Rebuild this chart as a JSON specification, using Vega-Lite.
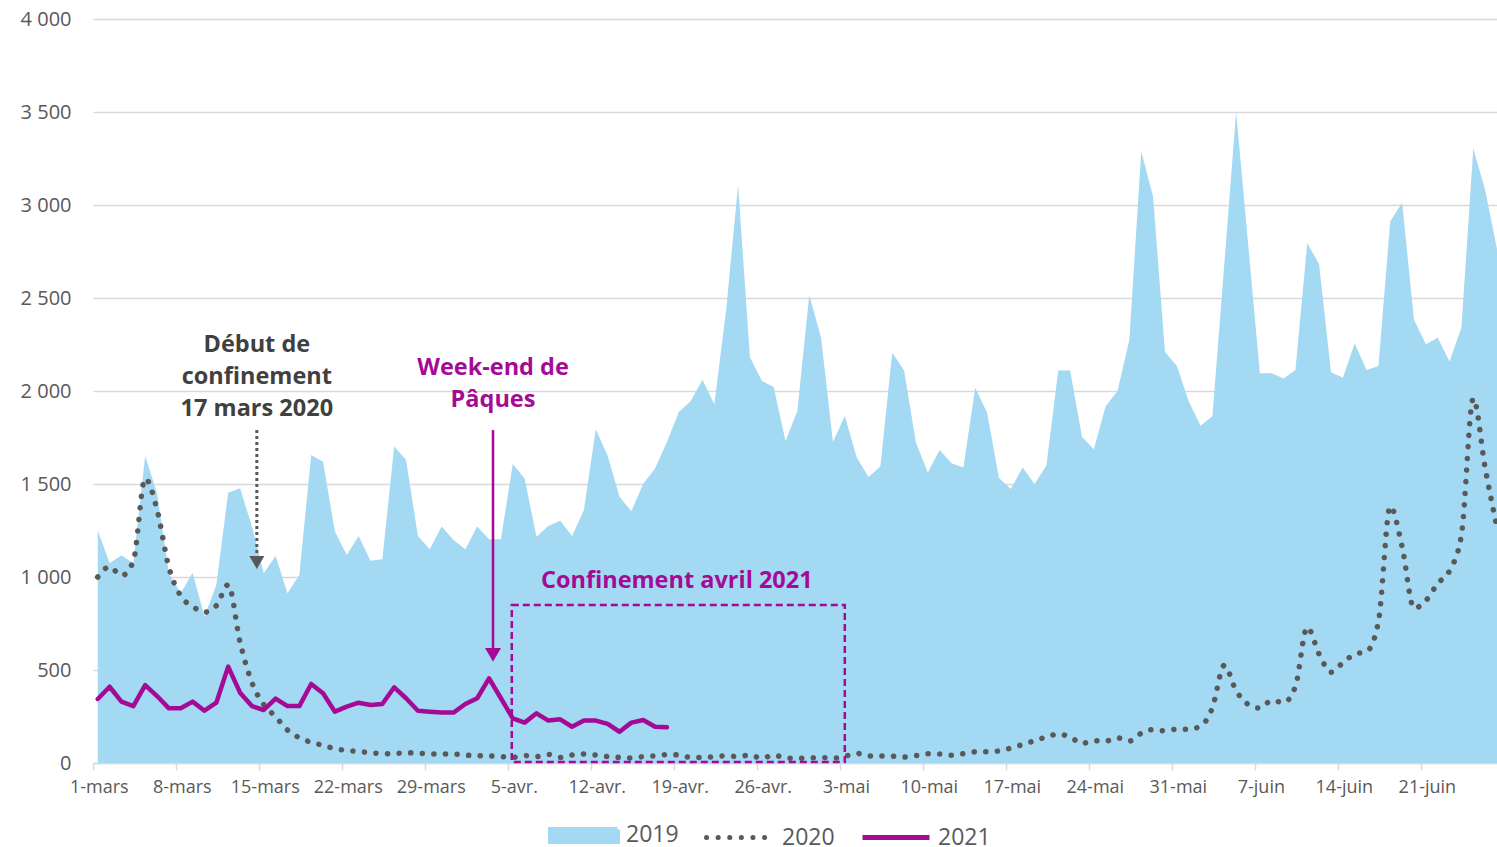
{
  "$schema": "https://vega.github.io/schema/vega-lite/v6.json",
  "width": 1404,
  "height": 744,
  "autosize": {"type": "none"},
  "padding": {"left": 93, "top": 19, "right": 0, "bottom": 84},
  "background": "white",
  "config": {
    "view": {"stroke": null},
    "font": "Open Sans",
    "locale": {
      "number": {"decimal": ",", "thousands": "\u00a0", "grouping": [3], "currency": ["", "\u00a0€"]},
      "time": {
        "dateTime": "%A %e %B %Y à %X", "date": "%d/%m/%Y", "time": "%H:%M:%S", "periods": ["AM", "PM"],
        "days": ["dimanche", "lundi", "mardi", "mercredi", "jeudi", "vendredi", "samedi"],
        "shortDays": ["dim.", "lun.", "mar.", "mer.", "jeu.", "ven.", "sam."],
        "months": ["janvier", "février", "mars", "avril", "mai", "juin", "juillet", "août", "septembre", "octobre", "novembre", "décembre"],
        "shortMonths": ["janv.", "févr.", "mars", "avr.", "mai", "juin", "juil.", "août", "sept.", "oct.", "nov.", "déc."]
      }
    }
  },
  "data": {
    "format": {"parse": {"d": "date:'%Y-%m-%d'"}},
    "values": [
      {"d": "2021-03-01", "2019": 1250, "2020": 1000, "2021": 344},
      {"d": "2021-03-02", "2019": 1075, "2020": 1055, "2021": 410},
      {"d": "2021-03-03", "2019": 1115, "2020": 1007, "2021": 330},
      {"d": "2021-03-04", "2019": 1075, "2020": 1085, "2021": 306},
      {"d": "2021-03-05", "2019": 1650, "2020": 1530, "2021": 419},
      {"d": "2021-03-06", "2019": 1450, "2020": 1362, "2021": 360},
      {"d": "2021-03-07", "2019": 1020, "2020": 1052, "2021": 294},
      {"d": "2021-03-08", "2019": 912, "2020": 898, "2021": 294},
      {"d": "2021-03-09", "2019": 1023, "2020": 842, "2021": 330},
      {"d": "2021-03-10", "2019": 787, "2020": 811, "2021": 281},
      {"d": "2021-03-11", "2019": 957, "2020": 846, "2021": 324},
      {"d": "2021-03-12", "2019": 1453, "2020": 958, "2021": 518},
      {"d": "2021-03-13", "2019": 1477, "2020": 650, "2021": 378},
      {"d": "2021-03-14", "2019": 1271, "2020": 432, "2021": 306},
      {"d": "2021-03-15", "2019": 1020, "2020": 314, "2021": 285},
      {"d": "2021-03-16", "2019": 1113, "2020": 249, "2021": 346},
      {"d": "2021-03-17", "2019": 912, "2020": 177, "2021": 306},
      {"d": "2021-03-18", "2019": 1011, "2020": 136, "2021": 306},
      {"d": "2021-03-19", "2019": 1656, "2020": 111, "2021": 425},
      {"d": "2021-03-20", "2019": 1620, "2020": 95, "2021": 375},
      {"d": "2021-03-21", "2019": 1244, "2020": 77, "2021": 276},
      {"d": "2021-03-22", "2019": 1118, "2020": 67, "2021": 303},
      {"d": "2021-03-23", "2019": 1220, "2020": 62, "2021": 324},
      {"d": "2021-03-24", "2019": 1088, "2020": 55, "2021": 312},
      {"d": "2021-03-25", "2019": 1095, "2020": 50, "2021": 317},
      {"d": "2021-03-26", "2019": 1701, "2020": 51, "2021": 407},
      {"d": "2021-03-27", "2019": 1629, "2020": 55, "2021": 348},
      {"d": "2021-03-28", "2019": 1220, "2020": 53, "2021": 281},
      {"d": "2021-03-29", "2019": 1149, "2020": 48, "2021": 276},
      {"d": "2021-03-30", "2019": 1271, "2020": 48, "2021": 271},
      {"d": "2021-03-31", "2019": 1199, "2020": 48, "2021": 271},
      {"d": "2021-04-01", "2019": 1149, "2020": 42, "2021": 317},
      {"d": "2021-04-02", "2019": 1271, "2020": 40, "2021": 348},
      {"d": "2021-04-03", "2019": 1203, "2020": 38, "2021": 455},
      {"d": "2021-04-04", "2019": 1203, "2020": 34, "2021": 348},
      {"d": "2021-04-05", "2019": 1608, "2020": 30, "2021": 240},
      {"d": "2021-04-06", "2019": 1530, "2020": 40, "2021": 217},
      {"d": "2021-04-07", "2019": 1217, "2020": 34, "2021": 267},
      {"d": "2021-04-08", "2019": 1274, "2020": 46, "2021": 228},
      {"d": "2021-04-09", "2019": 1303, "2020": 30, "2021": 235},
      {"d": "2021-04-10", "2019": 1220, "2020": 43, "2021": 195},
      {"d": "2021-04-11", "2019": 1360, "2020": 48, "2021": 228},
      {"d": "2021-04-12", "2019": 1795, "2020": 43, "2021": 228},
      {"d": "2021-04-13", "2019": 1652, "2020": 34, "2021": 210},
      {"d": "2021-04-14", "2019": 1431, "2020": 30, "2021": 168},
      {"d": "2021-04-15", "2019": 1353, "2020": 27, "2021": 217},
      {"d": "2021-04-16", "2019": 1502, "2020": 34, "2021": 231},
      {"d": "2021-04-17", "2019": 1583, "2020": 38, "2021": 195},
      {"d": "2021-04-18", "2019": 1726, "2020": 45, "2021": 192},
      {"d": "2021-04-19", "2019": 1887, "2020": 43},
      {"d": "2021-04-20", "2019": 1945, "2020": 30},
      {"d": "2021-04-21", "2019": 2060, "2020": 30},
      {"d": "2021-04-22", "2019": 1929, "2020": 34},
      {"d": "2021-04-23", "2019": 2440, "2020": 39},
      {"d": "2021-04-24", "2019": 3108, "2020": 34},
      {"d": "2021-04-25", "2019": 2182, "2020": 43},
      {"d": "2021-04-26", "2019": 2055, "2020": 25},
      {"d": "2021-04-27", "2019": 2021, "2020": 43},
      {"d": "2021-04-28", "2019": 1731, "2020": 27},
      {"d": "2021-04-29", "2019": 1892, "2020": 25},
      {"d": "2021-04-30", "2019": 2516, "2020": 27},
      {"d": "2021-05-01", "2019": 2286, "2020": 30},
      {"d": "2021-05-02", "2019": 1726, "2020": 25},
      {"d": "2021-05-03", "2019": 1865, "2020": 36},
      {"d": "2021-05-04", "2019": 1644, "2020": 52},
      {"d": "2021-05-05", "2019": 1537, "2020": 38},
      {"d": "2021-05-06", "2019": 1594, "2020": 37},
      {"d": "2021-05-07", "2019": 2205, "2020": 37},
      {"d": "2021-05-08", "2019": 2110, "2020": 32},
      {"d": "2021-05-09", "2019": 1722, "2020": 40},
      {"d": "2021-05-10", "2019": 1562, "2020": 50},
      {"d": "2021-05-11", "2019": 1683, "2020": 48},
      {"d": "2021-05-12", "2019": 1612, "2020": 42},
      {"d": "2021-05-13", "2019": 1589, "2020": 50},
      {"d": "2021-05-14", "2019": 2018, "2020": 60},
      {"d": "2021-05-15", "2019": 1883, "2020": 60},
      {"d": "2021-05-16", "2019": 1532, "2020": 65},
      {"d": "2021-05-17", "2019": 1473, "2020": 80},
      {"d": "2021-05-18", "2019": 1589, "2020": 100},
      {"d": "2021-05-19", "2019": 1500, "2020": 120},
      {"d": "2021-05-20", "2019": 1600, "2020": 140},
      {"d": "2021-05-21", "2019": 2110, "2020": 155},
      {"d": "2021-05-22", "2019": 2110, "2020": 140},
      {"d": "2021-05-23", "2019": 1754, "2020": 105},
      {"d": "2021-05-24", "2019": 1687, "2020": 120},
      {"d": "2021-05-25", "2019": 1918, "2020": 118},
      {"d": "2021-05-26", "2019": 2000, "2020": 135},
      {"d": "2021-05-27", "2019": 2277, "2020": 118},
      {"d": "2021-05-28", "2019": 3288, "2020": 160},
      {"d": "2021-05-29", "2019": 3044, "2020": 180},
      {"d": "2021-05-30", "2019": 2210, "2020": 173},
      {"d": "2021-05-31", "2019": 2136, "2020": 182},
      {"d": "2021-06-01", "2019": 1945, "2020": 182},
      {"d": "2021-06-02", "2019": 1813, "2020": 198},
      {"d": "2021-06-03", "2019": 1864, "2020": 297},
      {"d": "2021-06-04", "2019": 2680, "2020": 525},
      {"d": "2021-06-05", "2019": 3500, "2020": 389},
      {"d": "2021-06-06", "2019": 2800, "2020": 316},
      {"d": "2021-06-07", "2019": 2095, "2020": 295},
      {"d": "2021-06-08", "2019": 2095, "2020": 336},
      {"d": "2021-06-09", "2019": 2067, "2020": 325},
      {"d": "2021-06-10", "2019": 2113, "2020": 412},
      {"d": "2021-06-11", "2019": 2795, "2020": 730},
      {"d": "2021-06-12", "2019": 2682, "2020": 585},
      {"d": "2021-06-13", "2019": 2101, "2020": 488},
      {"d": "2021-06-14", "2019": 2071, "2020": 539},
      {"d": "2021-06-15", "2019": 2256, "2020": 585},
      {"d": "2021-06-16", "2019": 2113, "2020": 599},
      {"d": "2021-06-17", "2019": 2134, "2020": 760},
      {"d": "2021-06-18", "2019": 2912, "2020": 1380},
      {"d": "2021-06-19", "2019": 3012, "2020": 1161},
      {"d": "2021-06-20", "2019": 2383, "2020": 832},
      {"d": "2021-06-21", "2019": 2251, "2020": 873},
      {"d": "2021-06-22", "2019": 2286, "2020": 965},
      {"d": "2021-06-23", "2019": 2159, "2020": 1034},
      {"d": "2021-06-24", "2019": 2341, "2020": 1226},
      {"d": "2021-06-25", "2019": 3304, "2020": 1960},
      {"d": "2021-06-26", "2019": 3081, "2020": 1587},
      {"d": "2021-06-27", "2019": 2763, "2020": 1265}
    ]
  },
  "transform": [{"fold": ["2019", "2020", "2021"], "as": ["year", "n"]}],
  "layer": [
    {
      "transform": [{"filter": "datum.year === '2019'"}],
      "mark": {"type": "area", "opacity": 1, "interpolate": "linear"},
      "encoding": {
        "x": {
          "field": "d", "type": "temporal",
          "scale": {"domain": [{"year": 2021, "month": 2, "date": 28, "hours": 14, "minutes": 24}, {"year": 2021, "month": 6, "date": 27}]},
          "axis": {
            "title": null, "grid": false, "format": "%-d-%b",
            "values": [
              {"year": 2021, "month": 3, "date": 1}, {"year": 2021, "month": 3, "date": 8}, {"year": 2021, "month": 3, "date": 15},
              {"year": 2021, "month": 3, "date": 22}, {"year": 2021, "month": 3, "date": 29}, {"year": 2021, "month": 4, "date": 5},
              {"year": 2021, "month": 4, "date": 12}, {"year": 2021, "month": 4, "date": 19}, {"year": 2021, "month": 4, "date": 26},
              {"year": 2021, "month": 5, "date": 3}, {"year": 2021, "month": 5, "date": 10}, {"year": 2021, "month": 5, "date": 17},
              {"year": 2021, "month": 5, "date": 24}, {"year": 2021, "month": 5, "date": 31}, {"year": 2021, "month": 6, "date": 7},
              {"year": 2021, "month": 6, "date": 14}, {"year": 2021, "month": 6, "date": 21}
            ],
            "labelFont": "Open Sans", "labelFontSize": 18, "labelColor": "#595959",
            "labelOverlap": false, "labelFlush": false, "labelPadding": 8,
            "tickColor": "#d9d9d9", "tickSize": 7, "tickWidth": 1.5, "tickOffset": -5, "labelOffset": 6,
            "domainColor": "#d9d9d9", "domainWidth": 1.5
          }
        },
        "y": {
          "field": "n", "type": "quantitative",
          "scale": {"domain": [0, 4000], "nice": false},
          "axis": {
            "title": null, "values": [0, 500, 1000, 1500, 2000, 2500, 3000, 3500, 4000], "format": ",d",
            "labelFont": "Open Sans", "labelFontSize": 20, "labelColor": "#595959", "labelPadding": 22,
            "ticks": false, "domain": false, "gridColor": "#d9d9d9", "gridWidth": 1.5
          }
        },
        "color": {
          "field": "year", "type": "nominal",
          "scale": {"domain": ["2019", "2020", "2021"], "range": ["#a3d9f2", "#595959", "#a50a96"]},
          "legend": {
            "orient": "none", "legendX": 455, "legendY": 780, "direction": "horizontal", "title": null,
            "symbolType": "M-1,0H1", "symbolSize": 4489, "symbolStrokeWidth": 5,
            "labelFont": "Open Sans", "labelFontSize": 23, "labelColor": "#595959", "labelOffset": 6, "columnPadding": 17,
            "encode": {
              "symbols": {
                "update": {
                  "shape": {"signal": "(datum.value === '2019' ? 'M-1,-0.18H1V0.18H-1Z' : 'M-1,0H1')"},
                  "fill": {"signal": "(datum.value === '2019' ? '#a3d9f2' : 'transparent')"},
                  "opacity": {"value": 1},
                  "fillOpacity": {"value": 1},
                  "strokeOpacity": {"value": 1},
                  "stroke": {"signal": "(datum.value === '2019' ? 'transparent' : datum.value === '2020' ? '#595959' : '#a50a96')"},
                  "strokeDash": {"signal": "(datum.value === '2020' ? [0.1, 11.5] : [1, 0])"},
                  "strokeCap": {"signal": "(datum.value === '2020' ? 'round' : 'butt')"}
                }
              }
            }
          }
        }
      }
    },
    {
      "transform": [{"filter": "datum.year === '2020'"}],
      "mark": {"type": "line", "interpolate": "monotone", "strokeDash": [0.1, 11.5], "strokeCap": "round", "strokeWidth": 5.5},
      "encoding": {
        "x": {"field": "d", "type": "temporal"},
        "y": {"field": "n", "type": "quantitative"},
        "color": {
          "field": "year", "type": "nominal",
          "legend": {
            "orient": "none", "legendX": 455, "legendY": 780, "direction": "horizontal", "title": null,
            "symbolType": "M-1,0H1", "symbolSize": 4489, "symbolStrokeWidth": 5,
            "labelFont": "Open Sans", "labelFontSize": 23, "labelColor": "#595959", "labelOffset": 6, "columnPadding": 17,
            "encode": {
              "symbols": {
                "update": {
                  "shape": {"signal": "(datum.value === '2019' ? 'M-1,-0.18H1V0.18H-1Z' : 'M-1,0H1')"},
                  "fill": {"signal": "(datum.value === '2019' ? '#a3d9f2' : 'transparent')"},
                  "opacity": {"value": 1},
                  "fillOpacity": {"value": 1},
                  "strokeOpacity": {"value": 1},
                  "stroke": {"signal": "(datum.value === '2019' ? 'transparent' : datum.value === '2020' ? '#595959' : '#a50a96')"},
                  "strokeDash": {"signal": "(datum.value === '2020' ? [0.1, 11.5] : [1, 0])"},
                  "strokeCap": {"signal": "(datum.value === '2020' ? 'round' : 'butt')"}
                }
              }
            }
          }
        }
      }
    },
    {
      "data": {"values": [{}]},
      "mark": {"type": "rect", "filled": false, "color": "#a50a96", "strokeDash": [7, 4], "strokeWidth": 2.5},
      "encoding": {
        "x": {"datum": {"year": 2021, "month": 4, "date": 4, "hours": 22}, "type": "temporal"},
        "x2": {"datum": {"year": 2021, "month": 5, "date": 3}},
        "y": {"datum": 849, "type": "quantitative"},
        "y2": {"datum": 5}
      }
    },
    {
      "transform": [{"filter": "datum.year === '2021' && isValid(datum.n)"}],
      "mark": {"type": "line", "strokeWidth": 4.5, "strokeJoin": "round", "strokeCap": "round"},
      "encoding": {
        "x": {"field": "d", "type": "temporal"},
        "y": {"field": "n", "type": "quantitative"},
        "color": {
          "field": "year", "type": "nominal",
          "legend": {
            "orient": "none", "legendX": 455, "legendY": 780, "direction": "horizontal", "title": null,
            "symbolType": "M-1,0H1", "symbolSize": 4489, "symbolStrokeWidth": 5,
            "labelFont": "Open Sans", "labelFontSize": 23, "labelColor": "#595959", "labelOffset": 6, "columnPadding": 17,
            "encode": {
              "symbols": {
                "update": {
                  "shape": {"signal": "(datum.value === '2019' ? 'M-1,-0.18H1V0.18H-1Z' : 'M-1,0H1')"},
                  "fill": {"signal": "(datum.value === '2019' ? '#a3d9f2' : 'transparent')"},
                  "opacity": {"value": 1},
                  "fillOpacity": {"value": 1},
                  "strokeOpacity": {"value": 1},
                  "stroke": {"signal": "(datum.value === '2019' ? 'transparent' : datum.value === '2020' ? '#595959' : '#a50a96')"},
                  "strokeDash": {"signal": "(datum.value === '2020' ? [0.1, 11.5] : [1, 0])"},
                  "strokeCap": {"signal": "(datum.value === '2020' ? 'round' : 'butt')"}
                }
              }
            }
          }
        }
      }
    },
    {
      "data": {"values": [{}]},
      "mark": {"type": "rule", "strokeDash": [3, 3], "strokeWidth": 3, "color": "#595959"},
      "encoding": {
        "x": {"datum": {"year": 2021, "month": 3, "date": 14, "hours": 10}, "type": "temporal"},
        "y": {"datum": 1790, "type": "quantitative"},
        "y2": {"datum": 1113}
      }
    },
    {
      "data": {"values": [{}]},
      "mark": {"type": "point", "shape": "triangle-down", "filled": true, "size": 225, "color": "#595959", "opacity": 1},
      "encoding": {
        "x": {"datum": {"year": 2021, "month": 3, "date": 14, "hours": 10}, "type": "temporal"},
        "y": {"datum": 1078, "type": "quantitative"}
      }
    },
    {
      "data": {"values": [{}]},
      "mark": {"type": "rule", "strokeWidth": 2.5, "color": "#a50a96"},
      "encoding": {
        "x": {"datum": {"year": 2021, "month": 4, "date": 3, "hours": 8}, "type": "temporal"},
        "y": {"datum": 1790, "type": "quantitative"},
        "y2": {"datum": 600}
      }
    },
    {
      "data": {"values": [{}]},
      "mark": {"type": "point", "shape": "triangle-down", "filled": true, "size": 256, "color": "#a50a96", "opacity": 1},
      "encoding": {
        "x": {"datum": {"year": 2021, "month": 4, "date": 3, "hours": 8}, "type": "temporal"},
        "y": {"datum": 581, "type": "quantitative"}
      }
    },
    {
      "data": {"values": [{}]},
      "mark": {"type": "text", "text": ["Début de", "confinement", "17 mars 2020"], "font": "Open Sans", "fontWeight": "bold", "fontSize": 23.5, "color": "#404040", "lineHeight": 32, "align": "center", "baseline": "middle"},
      "encoding": {
        "x": {"datum": {"year": 2021, "month": 3, "date": 14, "hours": 10}, "type": "temporal"},
        "y": {"datum": 2250, "type": "quantitative"}
      }
    },
    {
      "data": {"values": [{}]},
      "mark": {"type": "text", "text": ["Week-end de", "Pâques"], "font": "Open Sans", "fontWeight": "bold", "fontSize": 23.5, "color": "#a50a96", "lineHeight": 32, "align": "center", "baseline": "middle"},
      "encoding": {
        "x": {"datum": {"year": 2021, "month": 4, "date": 3, "hours": 8}, "type": "temporal"},
        "y": {"datum": 2124, "type": "quantitative"}
      }
    },
    {
      "data": {"values": [{}]},
      "mark": {"type": "text", "text": "Confinement avril 2021", "font": "Open Sans", "fontWeight": "bold", "fontSize": 23.5, "color": "#a50a96", "align": "center", "baseline": "middle"},
      "encoding": {
        "x": {"datum": {"year": 2021, "month": 4, "date": 18, "hours": 20}, "type": "temporal"},
        "y": {"datum": 978, "type": "quantitative"}
      }
    }
  ]
}
